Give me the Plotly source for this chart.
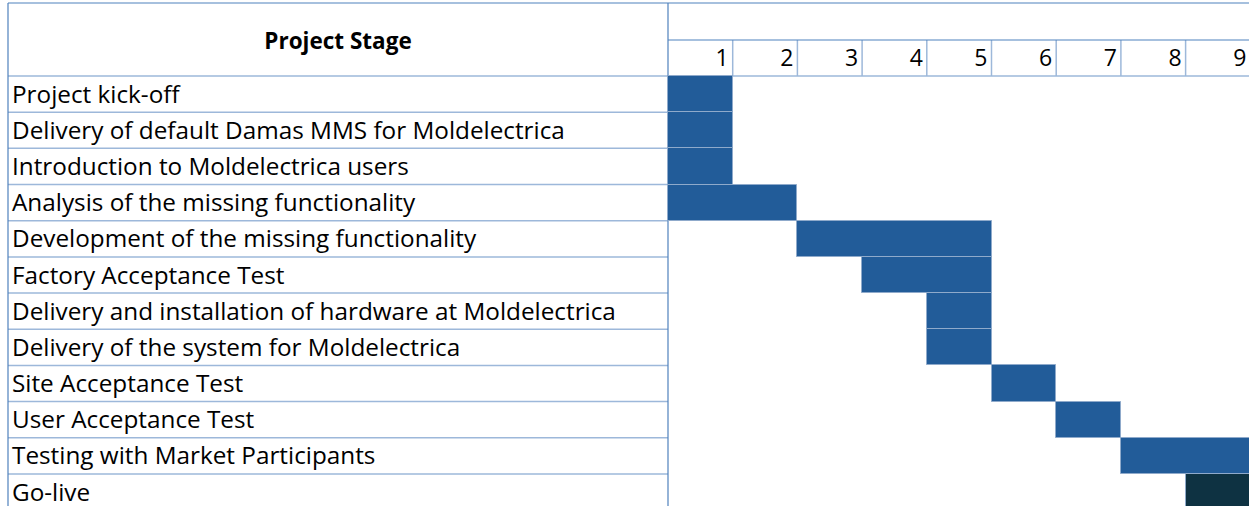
import plotly.graph_objects as go

# ---- data ----
stages = [
    "Project kick-off",
    "Delivery of default Damas MMS for Moldelectrica",
    "Introduction to Moldelectrica users",
    "Analysis of the missing functionality",
    "Development of the missing functionality",
    "Factory Acceptance Test",
    "Delivery and installation of hardware at Moldelectrica",
    "Delivery of the system for Moldelectrica",
    "Site Acceptance Test",
    "User Acceptance Test",
    "Testing with Market Participants",
    "Go-live",
]
start_month = [1, 1, 1, 1, 3, 4, 5, 5, 6, 7, 8, 9]
end_month = [1, 1, 1, 2, 5, 5, 5, 5, 6, 7, 9, 9]
months = [1, 2, 3, 4, 5, 6, 7, 8, 9]
header_title = "Project Stage"

# ---- style ----
BLUE = "#225C99"
DARK = "#0E3242"
EDGE = "#8FAACB"
FRAME = "#4F81BD"
GRID = "#9DB8DA"
FONT = "Open Sans"
W, H = 1249, 506

# pixel geometry -> axis units
col_w = 64.7          # px per month
month0_px = 668       # left edge of month 1
row_h = 36.18         # px per row
row0_px = 76          # top edge of first data row
x_left = (8 - month0_px) / col_w
x_range = [-month0_px / col_w, (W - month0_px) / col_w]
y_range = [(H - row0_px) / row_h - 0.5, -row0_px / row_h - 0.5]
y_top = (3 - row0_px) / row_h - 0.5
y_mid = (40 - row0_px) / row_h - 0.5
n = len(stages)
rows = list(range(n))
text_dy = 2.5 / row_h   # text sits slightly low in its cell

fig = go.Figure()

durations = [e - s + 1 for s, e in zip(start_month, end_month)]
bases = [s - 1 for s in start_month]
colors = [DARK if s == "Go-live" else BLUE for s in stages]

fig.add_trace(go.Bar(
    orientation="h", y=rows, x=durations, base=bases, width=1,
    marker=dict(color=colors, line=dict(color=EDGE, width=1)),
    hoverinfo="skip", showlegend=False,
))

# stage labels
fig.add_trace(go.Scatter(
    x=[x_left + 4 / col_w] * n, y=[r + text_dy for r in rows], mode="text", text=stages,
    textposition="middle right",
    textfont=dict(family=FONT, size=24.3, color="#000000"),
    hoverinfo="skip", showlegend=False,
))

# header title
fig.add_trace(go.Scatter(
    x=[x_left / 2], y=[(y_top - 0.5) / 2 + 4 / row_h], mode="text",
    text=["<b>" + header_title + "</b>"], textposition="middle center",
    textfont=dict(family=FONT, size=22.5, color="#000000"),
    hoverinfo="skip", showlegend=False,
))

# month numbers
fig.add_trace(go.Scatter(
    x=[m - 4 / col_w for m in months], y=[-1 + text_dy] * len(months), mode="text",
    text=[str(m) for m in months], textposition="middle left",
    textfont=dict(family=FONT, size=23, color="#000000"),
    hoverinfo="skip", showlegend=False,
))

shapes = []
def line(x0, y0, x1, y1, color, width=1):
    shapes.append(dict(type="line", xref="x", yref="y", x0=x0, y0=y0, x1=x1, y1=y1,
                       line=dict(color=color, width=width), layer="below"))

# row separators in label column
for i in range(n):
    line(x_left, i + 0.5, 0, i + 0.5, GRID, 1.5)
# header number separators
for m in months[:-1]:
    line(m, y_mid, m, -0.5, GRID, 1.5)
line(0, -0.5, x_range[1], -0.5, GRID, 1.5)
line(x_left, -0.5, 0, -0.5, GRID, 1.5)
# frame
line(x_left, y_top, x_left, y_range[0], FRAME, 1.2)
line(x_left, y_top, x_range[1], y_top, FRAME, 1.2)
line(0, y_top, 0, y_range[0], FRAME, 1.2)
line(0, y_mid, x_range[1], y_mid, FRAME, 1.2)

fig.update_layout(
    width=W, height=H, autosize=False,
    margin=dict(l=0, r=0, t=0, b=0, pad=0),
    paper_bgcolor="white", plot_bgcolor="white",
    xaxis=dict(range=x_range, visible=False, fixedrange=True),
    yaxis=dict(range=y_range, visible=False, fixedrange=True),
    shapes=shapes, bargap=0,
)

fig.write_html("out.html", config={"displayModeBar": False},
               post_script="document.body.style.margin='0';document.body.style.overflow='hidden';")
